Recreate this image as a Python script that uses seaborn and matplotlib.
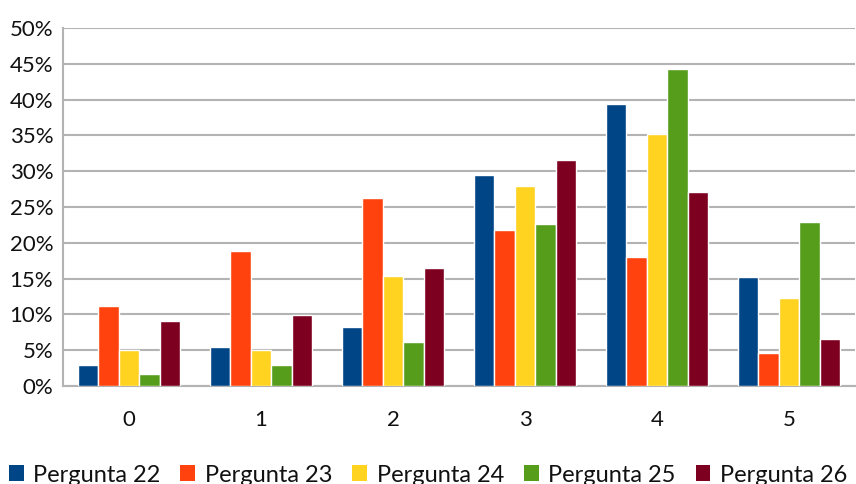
import matplotlib
matplotlib.use("Agg")
import matplotlib.pyplot as plt
import seaborn as sns
import pandas as pd
from matplotlib.ticker import PercentFormatter, MultipleLocator
from matplotlib.patches import Patch

categories = ["0", "1", "2", "3", "4", "5"]
series_names = ["Pergunta 22", "Pergunta 23", "Pergunta 24", "Pergunta 25", "Pergunta 26"]
p22 = [2.9, 5.4, 8.3, 29.4, 39.4, 15.2]
p23 = [11.2, 18.8, 26.2, 21.8, 18.0, 4.6]
p24 = [5.0, 5.0, 15.3, 27.9, 35.2, 12.3]
p25 = [1.7, 2.9, 6.2, 22.6, 44.3, 22.9]
p26 = [9.1, 9.9, 16.5, 31.5, 27.1, 6.5]
colors = ["#004586", "#ff420e", "#ffd320", "#579d1c", "#7e0021"]

rows = []
for name, vals in zip(series_names, [p22, p23, p24, p25, p26]):
    for c, v in zip(categories, vals):
        rows.append({"cat": c, "serie": name, "val": v})
df = pd.DataFrame(rows)

sns.set_style("white")
plt.rcParams["font.family"] = ["Lato", "DejaVu Sans"]

fig = plt.figure(figsize=(8.56, 4.84), dpi=100)
ax = fig.add_axes([63/856, 1-386/484, 792/856, 358/484])
sns.barplot(data=df, x="cat", y="val", hue="serie", palette=colors, saturation=1,
            width=0.78, gap=0, ax=ax, legend=False, zorder=3)
ax.set_ylim(0, 50)
ax.set_xlim(-0.5, 5.5)
ax.yaxis.set_major_locator(MultipleLocator(5))
ax.yaxis.set_major_formatter(PercentFormatter(decimals=0))
ax.grid(axis="y", color="#b3b3b3", linewidth=1.5, zorder=0)
ax.set_axisbelow(True)
for s in ["top", "right"]:
    ax.spines[s].set_visible(False)
for s in ["left", "bottom"]:
    ax.spines[s].set_color("#b3b3b3")
    ax.spines[s].set_linewidth(1.5)
ax.set_xlabel("")
ax.set_ylabel("")
ax.tick_params(axis="x", length=0, pad=17, labelsize=16, colors="#111111")
ax.tick_params(axis="y", length=0, pad=7, labelsize=16, colors="#111111")

handles = [Patch(facecolor=c, edgecolor="none") for c in colors]
fig.legend(handles, series_names, loc="center", bbox_to_anchor=(0.5, 1-475/484),
           ncol=5, frameon=False, fontsize=17, handlelength=0.63, handleheight=0.63,
           handletextpad=0.4, columnspacing=0.85, labelcolor="#111111",
           borderpad=0, borderaxespad=0)

fig.savefig("out.png", dpi=100)
